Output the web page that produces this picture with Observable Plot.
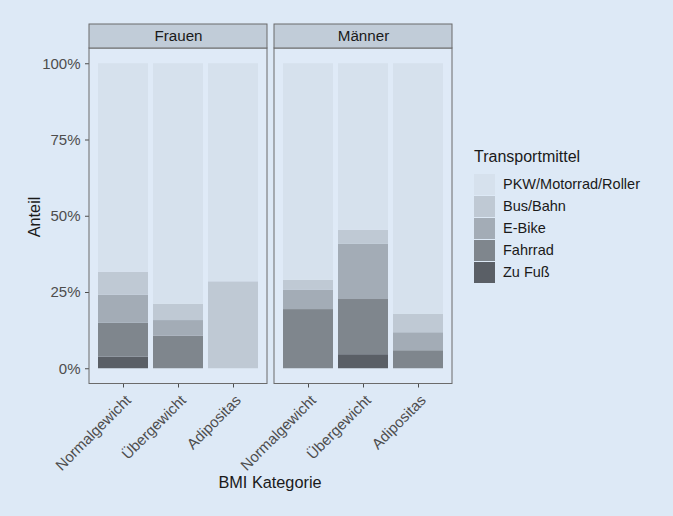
<!DOCTYPE html>
<html>
<head>
<meta charset="utf-8">
<script src="https://cdn.jsdelivr.net/npm/d3@7"></script>
<script src="https://cdn.jsdelivr.net/npm/@observablehq/plot@0.6"></script>
<style>
  html, body { margin: 0; padding: 0; background: #dde9f6; }
  body { width: 673px; height: 516px; position: relative; overflow: hidden; font-family: "Liberation Sans", Arial, sans-serif; }
  #chart { position: absolute; left: 0; top: 0; }
  #legend { position: absolute; left: 474px; top: 148px; color: #1a1a1a; }
  #legend .title { font-size: 16px; margin-bottom: 7px; }
  #legend .row { display: flex; align-items: center; height: 22px; }
  #legend .key { width: 21px; height: 21px; margin-right: 8px; }
  #legend .lab { font-size: 14.5px; }
</style>
</head>
<body>
<div id="chart"></div>
<div id="legend"></div>
<script>
const sexes = ["Frauen", "Männer"];
const categories = ["Normalgewicht", "Übergewicht", "Adipositas"];
// stacking order bottom -> top
const modes = ["Zu Fuß", "Fahrrad", "E-Bike", "Bus/Bahn", "PKW/Motorrad/Roller"];
const legendOrder = ["PKW/Motorrad/Roller", "Bus/Bahn", "E-Bike", "Fahrrad", "Zu Fuß"];
const modeColors = ["#5a5f66", "#7f868d", "#a3acb6", "#bfc9d4", "#d6e1ed"];
// values (%) per group: [F-Normal, F-Über, F-Adip, M-Normal, M-Über, M-Adip]
const zuFuss  = [3.8, 0, 0, 0, 4.6, 0];
const fahrrad = [11.1, 10.7, 0, 19.4, 18.1, 5.9];
const eBike   = [9.2, 5.1, 0, 6.4, 18.1, 5.9];
const busBahn = [7.5, 5.3, 28.5, 3.2, 4.6, 6.0];
const pkw     = [68.4, 78.9, 71.5, 71.0, 54.6, 82.2];
const yTicks = [0, 0.25, 0.5, 0.75, 1];

const series = [zuFuss, fahrrad, eBike, busBahn, pkw];
const rows = [];
modes.forEach((m, mi) => {
  series[mi].forEach((v, gi) => {
    rows.push({mode: m, sex: sexes[Math.floor(gi / 3)], cat: categories[gi % 3], value: v / 100});
  });
});

const stripTop = 1.1287;
const plot = Plot.plot({
  width: 673,
  height: 516,
  marginLeft: 88,
  marginRight: 221,
  marginTop: 24,
  marginBottom: 132.5,
  style: {fontFamily: "'Liberation Sans', Arial, sans-serif", fontSize: "15px", color: "#4d4d4d", background: "transparent", overflow: "visible"},
  fx: {domain: sexes, padding: 0.038, axis: null, label: null},
  x: {domain: categories, paddingInner: 0.1, paddingOuter: 0.15, tickRotate: -45, tickSize: 4, label: null},
  y: {domain: [-0.05, stripTop], ticks: yTicks, tickFormat: d3.format(".0%"), tickSize: 4, label: null},
  color: {domain: modes, range: modeColors},
  marks: [
    Plot.rect([0], {y1: -0.05, y2: 1.05, fill: "#dfeaf7"}),
    Plot.barY(rows, {fx: "sex", x: "cat", y: "value", fill: "mode"}),
    Plot.rect([0], {y1: -0.05, y2: 1.05, fill: "none", stroke: "#6b6b6b", strokeWidth: 1}),
    Plot.rect([0], {y1: 1.05, y2: stripTop, fill: "#c1ccd8", stroke: "#6b6b6b", strokeWidth: 1}),
    Plot.text(sexes, {fx: d => d, y: (1.05 + stripTop) / 2, text: d => d, fill: "#1a1a1a", fontSize: 15.2})
  ]
});
document.getElementById("chart").appendChild(plot);

const svg = d3.select(plot.tagName === "svg" ? plot : plot.querySelector("svg"));
svg.selectAll('[aria-label="x-axis tick label"] text').each(function() {
  const t = this.getAttribute("transform") || "";
  this.setAttribute("transform", "translate(5,2) " + t);
});
svg.append("text").attr("x", 270).attr("y", 488).attr("text-anchor", "middle")
  .attr("fill", "#1a1a1a").style("font-size", "16.3px").text("BMI Kategorie");
svg.append("text").attr("transform", "translate(39.5,217) rotate(-90)").attr("text-anchor", "middle")
  .attr("fill", "#1a1a1a").style("font-size", "16.3px").text("Anteil");

const legend = d3.select("#legend");
legend.append("div").attr("class", "title").text("Transportmittel");
legendOrder.forEach(m => {
  const r = legend.append("div").attr("class", "row");
  r.append("div").attr("class", "key").style("background", modeColors[modes.indexOf(m)]);
  r.append("div").attr("class", "lab").text(m);
});
</script>
</body>
</html>
